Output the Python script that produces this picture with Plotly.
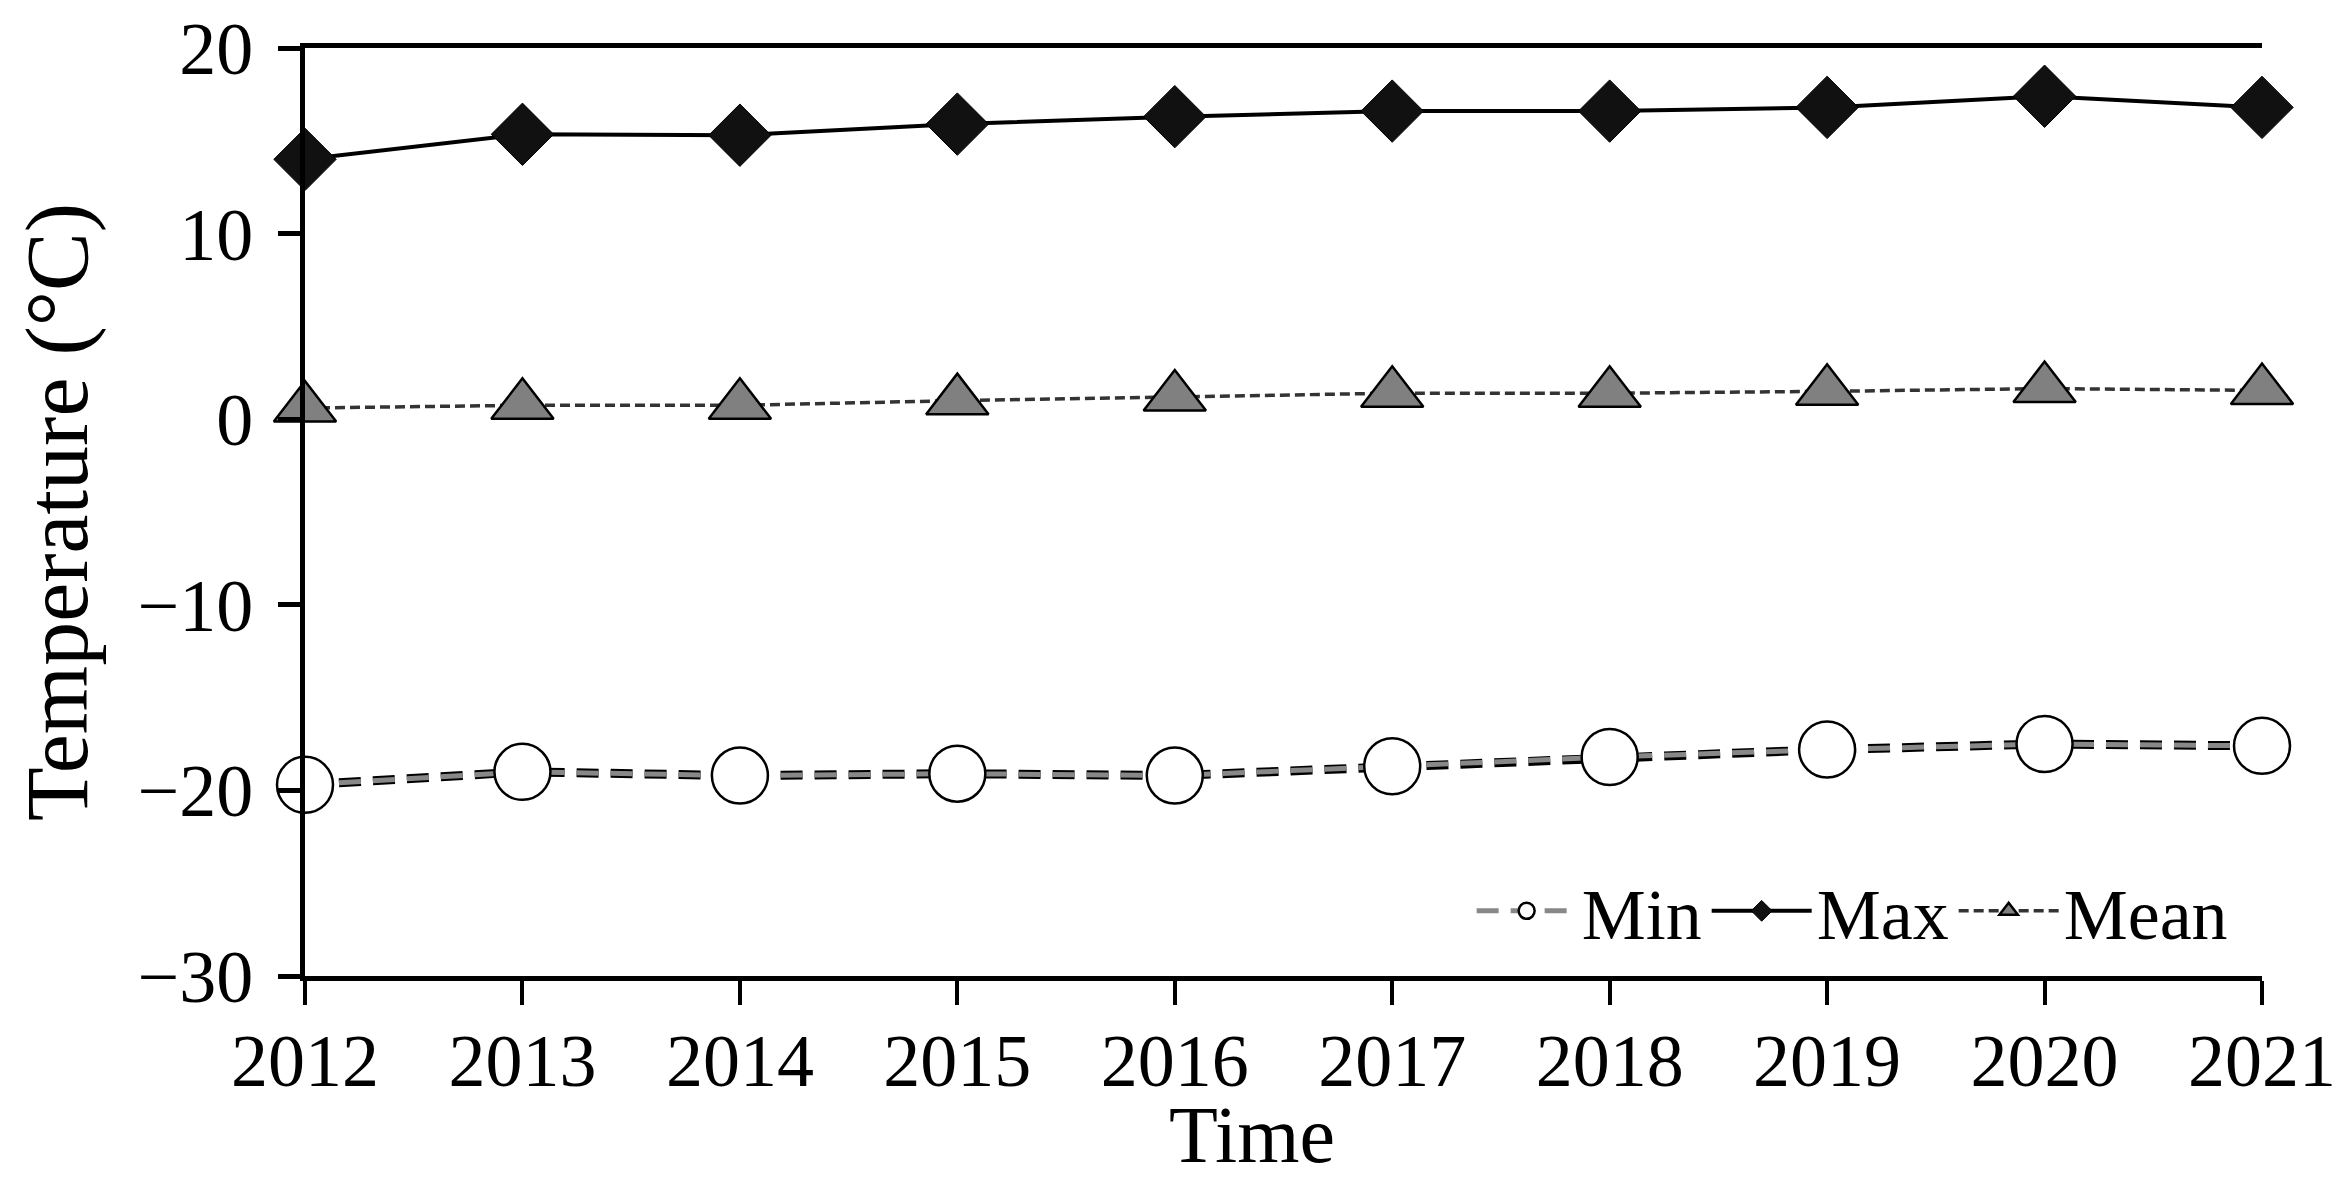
import plotly.graph_objects as go

years = [2012, 2013, 2014, 2015, 2016, 2017, 2018, 2019, 2020, 2021]
t_min = [-19.7, -19.0, -19.2, -19.1, -19.2, -18.7, -18.2, -17.8, -17.5, -17.6]
t_max = [14.0, 15.35, 15.3, 15.9, 16.3, 16.6, 16.6, 16.8, 17.4, 16.8]
t_mean = [0.6, 0.75, 0.75, 1.0, 1.2, 1.4, 1.4, 1.5, 1.65, 1.55]
y_ticks = [-30, -20, -10, 0, 10, 20]

FONT = "Liberation Serif"

fig = go.Figure()

# Min: black outline under gray dashes
fig.add_trace(go.Scatter(
    x=years, y=t_min, mode="lines", showlegend=False, hoverinfo="skip",
    line=dict(color="black", width=9, dash="22px,12px"), cliponaxis=False))
fig.add_trace(go.Scatter(
    x=years, y=t_min, mode="lines+markers", name="Min",
    line=dict(color="#888888", width=5, dash="22px,12px"),
    marker=dict(symbol="circle", size=56, color="white",
                line=dict(color="black", width=2.5)),
    cliponaxis=False))
fig.add_trace(go.Scatter(
    x=years, y=t_max, mode="lines+markers", name="Max",
    line=dict(color="black", width=4),
    marker=dict(symbol="diamond", size=48, color="#111111",
                line=dict(color="black", width=1)),
    cliponaxis=False))
fig.add_trace(go.Scatter(
    x=years, y=t_mean, mode="lines+markers", name="Mean",
    line=dict(color="#333333", width=3.5, dash="10px,5px"),
    marker=dict(symbol="triangle-up", size=54, color="#808080",
                line=dict(color="black", width=2.5)),
    cliponaxis=False))

fig.update_layout(
    width=2327, height=1175,
    margin=dict(l=297, r=73, t=40, b=207, autoexpand=False),
    paper_bgcolor="white", plot_bgcolor="white",
    font=dict(family=FONT, color="black", size=74),
    showlegend=True,
    legend=dict(orientation="h", x=0.985, xanchor="right", y=0.07, yanchor="middle",
                bgcolor="rgba(0,0,0,0)", font=dict(family=FONT, size=72),
                itemwidth=100, traceorder="normal"),
    xaxis=dict(
        range=[2012, 2021], tickmode="array", tickvals=years,
        ticktext=[str(y) for y in years],
        showline=True, linewidth=5, linecolor="black", mirror=True,
        ticks="outside", ticklen=24, tickwidth=4, tickcolor="black",
        showgrid=False, zeroline=False, automargin=False,
        ticklabeloverflow="allow",
        tickfont=dict(family=FONT, size=74), ticklabelstandoff=-8,
    ),
    yaxis=dict(
        range=[-30, 20], tickmode="array", tickvals=y_ticks,
        showline=True, linewidth=5, linecolor="black", mirror=False,
        ticks="outside", ticklen=22, tickwidth=5, tickcolor="black",
        showgrid=False, zeroline=False, automargin=False,
        ticklabeloverflow="allow",
        tickfont=dict(family=FONT, size=74), ticklabelstandoff=10,
        title=dict(text="Temperature (°C)", font=dict(family=FONT, size=88), standoff=22),
    ),
    yaxis2=dict(
        range=[-30, 20], overlaying="y", side="right",
        showline=True, linewidth=3, linecolor="black", automargin=False,
        ticks="", showticklabels=False, showgrid=False, zeroline=False,
    ),
    annotations=[dict(
        text="Time", xref="paper", yref="paper", x=0.484, y=-0.221,
        xanchor="center", yanchor="bottom", showarrow=False,
        font=dict(family=FONT, size=80, color="black"))],
)

fig.write_html("out.html")
